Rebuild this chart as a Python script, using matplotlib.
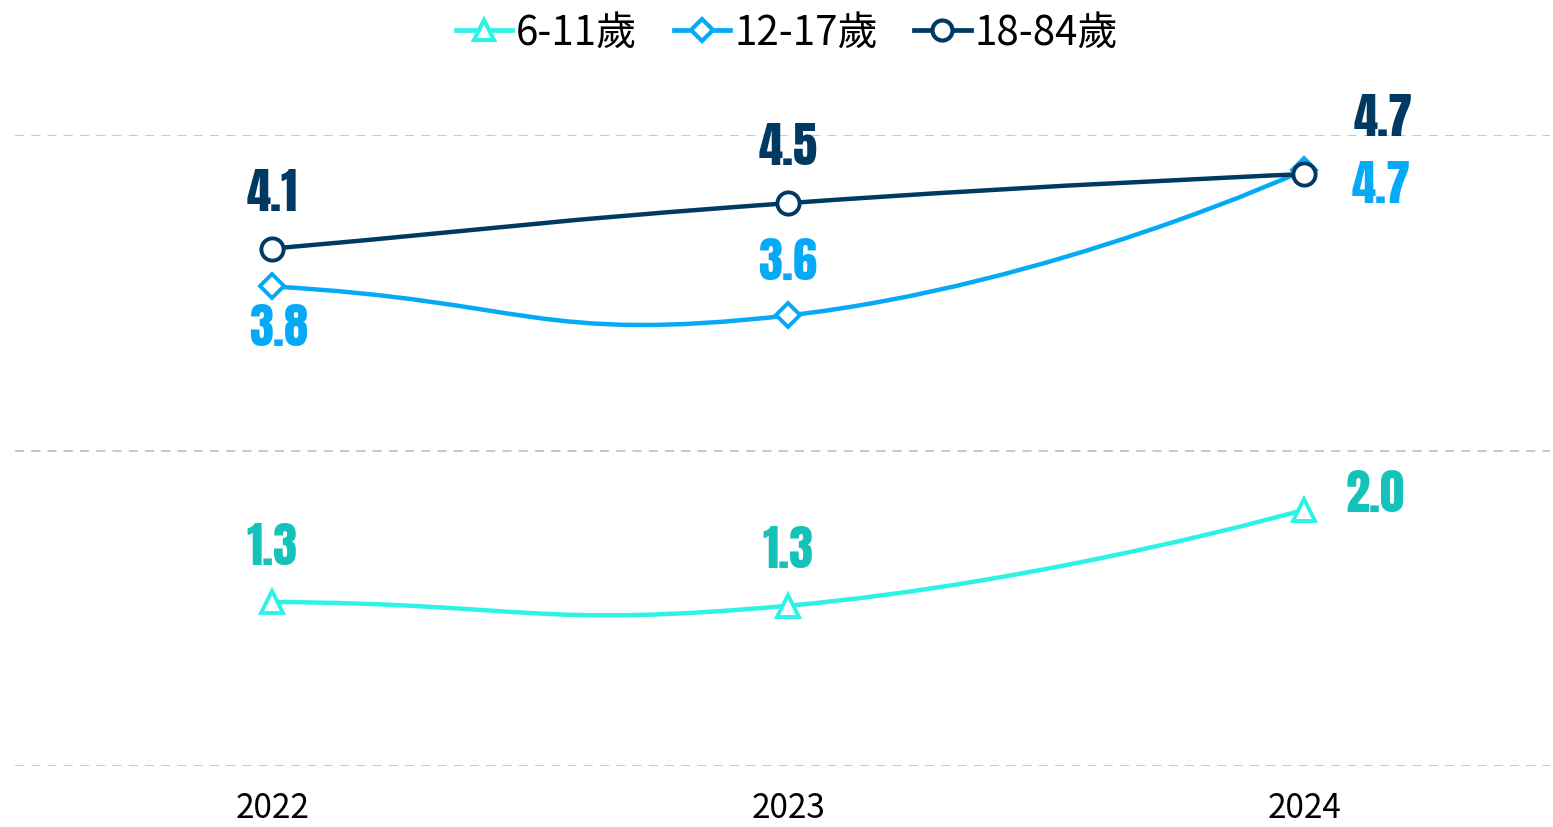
import numpy as np
import matplotlib
matplotlib.use("Agg")
import matplotlib.pyplot as plt
from matplotlib import font_manager
from matplotlib.path import Path
from matplotlib.patches import PathPatch
from matplotlib.lines import Line2D

years = ["2022", "2023", "2024"]
series_names = ["6-11歲", "12-17歲", "18-84歲"]
vals_6_11 = [1.30, 1.27, 2.03]
vals_12_17 = [3.80, 3.57, 4.72]
vals_18_84 = [4.10, 4.46, 4.69]

line_cols = ["#2EF2E6", "#05A9F6", "#003A62"]
label_cols = ["#14C2B9", "#05A9F6", "#003A62"]
markers = ["^", "D", "o"]
msizes = [16, 12, 16]

# label offsets in pixels from each point
offsets = [
    [(0, 55), (0, 56), (71, 16)],
    [(6, -42), (0, 53), (77, -15)],
    [(0, 56), (0, 56), (79, 56)],
]

names = {f.name for f in font_manager.fontManager.ttflist}
num_font = "DejaVu Sans"
for cand in ["Anton", "Oswald", "Fjalla One"]:
    if cand in names:
        num_font = cand
        break
cjk = ["Noto Sans CJK TC", "DejaVu Sans"]
plt.rcParams['font.family'] = cjk

W, H = 1553, 827
fig = plt.figure(figsize=(W / 100, H / 100), dpi=100)
ax = fig.add_axes([15 / W, (H - 766) / H, (1550 - 15) / W, (766 - 135) / H])
ax.set_xlim(-0.4985, 2.4767)
ax.set_ylim(0, 5)

# pixel scale used for the smoothing (like echarts smooth)
sx, sy = 516.0, 126.2


def smooth_path(xs, ys, s=0.5):
    px = np.array(xs, float) * sx
    py = np.array(ys, float) * sy
    n = len(px)
    verts = [(px[0], py[0])]
    codes = [Path.MOVETO]
    cp0 = (px[0], py[0])
    for i in range(1, n):
        x, y = px[i], py[i]
        if i == n - 1:
            cp1 = (x, y)
            ncp0 = (x, y)
        else:
            vx = px[i + 1] - px[i - 1]
            vy = py[i + 1] - py[i - 1]
            lp = np.hypot(x - px[i - 1], y - py[i - 1])
            ln = np.hypot(px[i + 1] - x, py[i + 1] - y)
            r = ln / (ln + lp)
            cp1 = (x - vx * s * (1 - r), y - vy * s * (1 - r))
            ncp0 = (x + vx * s * r, y + vy * s * r)
        if i == 1:
            vx = px[1] - px[0]
            vy = py[1] - py[0]
            cp0 = (px[0] + vx * s, py[0] + vy * s)
        verts += [cp0, cp1, (x, y)]
        codes += [Path.CURVE4] * 3
        cp0 = ncp0
    verts = [(a / sx, b / sy) for a, b in verts]
    return Path(verts, codes)


for yv in [0, 2.5, 5]:
    ax.axhline(yv, color="#c4c4c4", lw=1.3, ls=(0, (5, 4)), zorder=0)

all_vals = [vals_6_11, vals_12_17, vals_18_84]
xs = np.arange(len(years))
for k, vals in enumerate(all_vals):
    p = smooth_path(xs, vals)
    ax.add_patch(PathPatch(p, fill=False, edgecolor=line_cols[k], lw=3.2,
                           capstyle="round", zorder=2 + k))
    ax.plot(xs, vals, ls="none", marker=markers[k], ms=msizes[k], mfc="white",
            mec=line_cols[k], mew=2.8, zorder=5 + k)
    for i, v in enumerate(vals):
        ax.annotate(f"{v:.1f}", (xs[i], v), xytext=offsets[k][i],
                    textcoords="offset pixels", ha="center", va="center",
                    fontsize=35, family=num_font,
                    color=label_cols[k], zorder=10)

ax.set_xticks(xs)
ax.set_xticklabels(years, fontsize=24)
ax.tick_params(axis="x", length=0, pad=18)
ax.set_yticks([])
for sp in ax.spines.values():
    sp.set_visible(False)

handles = [Line2D([0], [0], color=line_cols[k], lw=3.4, marker=markers[k],
                  ms=msizes[k] * 0.9, mfc="white", mec=line_cols[k], mew=3.0)
           for k in range(3)]
fig.legend(handles, series_names, loc="center", bbox_to_anchor=(787 / W, 1 - 33 / H),
           ncol=3, frameon=False, fontsize=29, handlelength=1.4,
           handletextpad=0.1, columnspacing=0.9, prop={"size": 29, "weight": "medium"})

fig.savefig("out.png", dpi=100)
